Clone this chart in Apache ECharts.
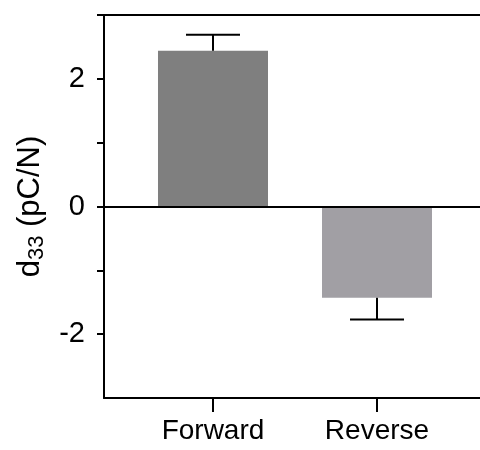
<!DOCTYPE html>
<html>
<head>
<meta charset="utf-8">
<script src="https://cdn.jsdelivr.net/npm/echarts@6/dist/echarts.min.js"></script>
<style>html,body{margin:0;padding:0;background:#fff;}#c{width:480px;height:450px;}</style>
</head>
<body>
<div id="c"></div>
<script>
var categories = ['Forward', 'Reverse'];
var values = [2.44, -1.43];
var errors = [0.25, 0.34];
var barColors = ['#7f7f7f', '#a19fa4'];
var yTickLabels = [-2, 0, 2];

var chart = echarts.init(document.getElementById('c'));
var positions = categories.map(function (c, i) { return i + 1; });
var barData = values.map(function (v, i) {
  return { value: [positions[i], v], itemStyle: { color: barColors[i] } };
});
var errData = values.map(function (v, i) {
  var end = v >= 0 ? v + errors[i] : v - errors[i];
  return [positions[i], v, end];
});
var font = 'Liberation Sans, Arial, sans-serif';
chart.setOption({
  animation: false,
  backgroundColor: '#fff',
  grid: { left: 104, right: 0, top: 15, bottom: 52 },
  xAxis: {
    type: 'value',
    min: 0.3354,
    max: 2.628,
    axisLine: { show: true, onZero: false, lineStyle: { color: '#000', width: 2 } },
    axisTick: { show: true, length: 14, lineStyle: { color: '#000', width: 2 }, customValues: positions },
    axisLabel: { color: '#000', fontSize: 28, fontFamily: font, margin: 19, customValues: positions,
      formatter: function (v) { return categories[Math.round(v) - 1] || ''; } },
    splitLine: { show: false }
  },
  yAxis: {
    type: 'value',
    min: -3, max: 3, interval: 1,
    name: '{a|d}{s|33}{a| (pC/N)}',
    nameLocation: 'middle',
    nameGap: 55,
    nameTextStyle: {
      rich: {
        a: { fontSize: 31, fontFamily: font, color: '#000' },
        s: { fontSize: 22, fontFamily: font, color: '#000', padding: [13, 0, 0, 0] }
      }
    },
    axisLine: { show: true, lineStyle: { color: '#000', width: 2 } },
    axisTick: { show: true, length: 7, lineStyle: { color: '#000', width: 2 }, customValues: [-2, -1, 0, 1, 2, 3] },
    axisLabel: { color: '#000', fontSize: 29, fontFamily: font, margin: 19, customValues: yTickLabels },
    splitLine: { show: false }
  },
  series: [
    {
      type: 'bar',
      data: barData,
      barWidth: 110,
      markLine: {
        silent: true,
        symbol: 'none',
        label: { show: false },
        lineStyle: { color: '#000', width: 2, type: 'solid' },
        data: [{ yAxis: 0 }, { yAxis: 3 }]
      },
      z: 2
    },
    {
      type: 'custom',
      data: errData,
      z: 3,
      renderItem: function (params, api) {
        var x = api.value(0);
        var p0 = api.coord([x, api.value(1)]);
        var p1 = api.coord([x, api.value(2)]);
        var half = 27;
        var style = { stroke: '#000', lineWidth: 2 };
        return {
          type: 'group',
          children: [
            { type: 'line', shape: { x1: p0[0], y1: p0[1], x2: p1[0], y2: p1[1] }, style: style },
            { type: 'line', shape: { x1: p1[0] - half, y1: p1[1], x2: p1[0] + half, y2: p1[1] }, style: style }
          ]
        };
      }
    }
  ]
});
</script>
</body>
</html>
